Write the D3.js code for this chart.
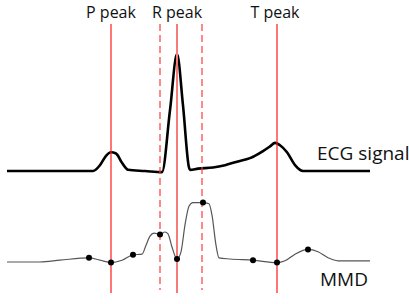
<!DOCTYPE html>
<html>
<head>
<meta charset="utf-8">
<script src="https://cdn.jsdelivr.net/npm/d3@7"></script>
<style>
  body { margin: 0; background: #fff; }
  text { font-family: "Open Sans", sans-serif; fill: #111; }
</style>
</head>
<body>
<svg id="chart" width="409" height="304"></svg>
<script>
// ECG trace (time in samples, amplitude normalised to R peak)
let ecgT = [0, 23, 53, 86, 93, 99, 104, 109, 115, 121, 138, 155, 163, 170, 176, 182, 183, 191, 206, 218, 230, 243, 256, 263, 268, 273, 280, 288, 296, 323, 363]
let ecgV = [0, 0, 0, 0, 0.05, 0.13, 0.16, 0.15, 0.07, 0.01, 0, -0.01, 0.52, 1.0, 0.56, 0.03, 0.01, 0.02, 0.03, 0.05, 0.08, 0.11, 0.17, 0.21, 0.24, 0.22, 0.16, 0.05, 0, 0, 0]

// MMD curve
let mmdT = [0, 33, 53, 82, 93, 104, 115, 126, 135, 139, 143, 147, 153, 158, 161, 165, 170, 174, 178, 182, 186, 196, 202, 205, 209, 212, 223, 246, 270, 278, 288, 301, 311, 321, 331, 363]
let mmdV = [0, 0, 0.03, 0.07, 0.03, -0.01, 0.03, 0.12, 0.13, 0.28, 0.43, 0.48, 0.46, 0.50, 0.47, 0.25, 0.05, 0.17, 0.62, 0.93, 0.99, 0.99, 0.97, 0.78, 0.28, 0.07, 0.05, 0.03, -0.01, 0.02, 0.13, 0.21, 0.17, 0.07, 0.02, 0.02]

// MMD extrema markers
let dotT = [82, 104, 126, 153, 170, 196, 246, 270, 301]
let dotV = [0.07, -0.01, 0.12, 0.46, 0.05, 0.99, 0.03, -0.01, 0.21]

// peak markers
let peakNames = ['P peak', 'R peak', 'T peak']
let peakT = [104, 170, 270]
let qrsBounds = [153, 195]

let svg = d3.select('#chart')

let x = d3.scaleLinear().domain([0, 363]).range([7, 370])
let yEcg = d3.scaleLinear().domain([0, 1]).range([171, 54])
let yMmd = d3.scaleLinear().domain([0, 1]).range([262, 202])

// MMD
let mmdLine = d3.line()
    .x((d, i) => x(mmdT[i]))
    .y(d => yMmd(d))
    .curve(d3.curveMonotoneX)

svg.append('path')
    .attr('d', mmdLine(mmdV))
    .attr('fill', 'none')
    .attr('stroke', '#555')
    .attr('stroke-width', 1.2)

// ECG
let ecgLine = d3.line()
    .x((d, i) => x(ecgT[i]))
    .y(d => yEcg(d))
    .curve(d3.curveMonotoneX)

svg.append('path')
    .attr('d', ecgLine(ecgV))
    .attr('fill', 'none')
    .attr('stroke', '#000')
    .attr('stroke-width', 2.6)
    .attr('stroke-linejoin', 'round')

// vertical marker lines, drawn over the traces
svg.selectAll('.peak')
    .data(peakT)
    .enter()
    .append('line')
    .attr('x1', d => x(d)).attr('x2', d => x(d))
    .attr('y1', 24).attr('y2', 293)
    .attr('stroke', (d, i) => i === 1 ? '#f47c7c' : '#ff1a1a')
    .attr('stroke-width', (d, i) => i === 1 ? 2 : 1.2)

svg.selectAll('.bound')
    .data(qrsBounds)
    .enter()
    .append('line')
    .attr('x1', d => x(d)).attr('x2', d => x(d))
    .attr('y1', 24).attr('y2', 290)
    .attr('stroke', '#ff3b3b')
    .attr('stroke-width', 1.2)
    .attr('stroke-dasharray', '7,4')

svg.selectAll('.dot')
    .data(dotV)
    .enter()
    .append('circle')
    .attr('cx', (d, i) => x(dotT[i]))
    .attr('cy', d => yMmd(d))
    .attr('r', 3)
    .attr('fill', '#000')

svg.selectAll('.peakLabel')
    .data(peakNames)
    .enter()
    .append('text')
    .attr('x', (d, i) => x(peakT[i]) + (i === 2 ? -2 : 0))
    .attr('y', 18)
    .attr('text-anchor', 'middle')
    .attr('font-size', 16)
    .text(d => d)

svg.append('text').attr('x', 317).attr('y', 160).attr('font-size', 19).text('ECG signal')
svg.append('text').attr('x', 320).attr('y', 286).attr('font-size', 19).text('MMD')
</script>
</body>
</html>
